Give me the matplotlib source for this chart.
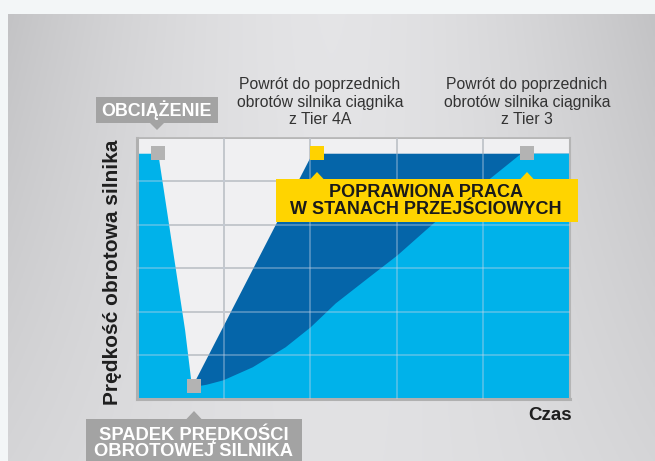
import numpy as np
import matplotlib
matplotlib.use("Agg")
import matplotlib.pyplot as plt
from matplotlib.patches import Rectangle, Polygon

plt.rcParams['font.family'] = ['Liberation Sans', 'DejaVu Sans']

# ---------------- data ----------------
light_x = [0.0, 0.24, 0.55, 0.63, 0.80, 0.99, 1.33, 1.71, 2.00, 2.29, 2.65, 3.00, 3.42, 3.90, 4.43, 5.0]
light_y = [5.65, 5.65, 1.59, 0.28, 0.34, 0.44, 0.74, 1.20, 1.66, 2.21, 2.77, 3.31, 4.05, 4.80, 5.65, 5.65]
dark_x = [0.63, 2.02, 5.0]
dark_y = [0.28, 5.65, 5.65]
marker_x = [0.24, 0.66, 2.08, 4.50]
marker_y = [5.65, 0.30, 5.65, 5.65]
marker_colors = ['#b3b3b3', '#b3b3b3', '#ffd200', '#b3b3b3']

y_label = 'Prędkość obrotowa silnika'
x_label = 'Czas'
note_4a = 'Powrót do poprzednich\nobrotów silnika ciągnika\nz Tier 4A'
note_t3 = 'Powrót do poprzednich\nobrotów silnika ciągnika\nz Tier 3'
load_label = 'OBCIĄŻENIE'
drop_label = 'SPADEK PRĘDKOŚCI\nOBROTOWEJ SILNIKA'
improve_label = 'POPRAWIONA PRACA\nW STANACH PRZEJŚCIOWYCH'

LIGHT = '#00b2ea'
DARK = '#0565a9'
GRAY_BOX = '#a3a3a3'
YELLOW = '#ffd400'

W, H = 655, 461
fig = plt.figure(figsize=(W / 100, H / 100), dpi=100, facecolor='#f3f6f7')

def fx(x):
    return x / W

def fy(y):
    return 1 - y / H

# background gradient
bg = fig.add_axes([fx(8), 0, 1 - fx(8), 1 - 14 / H])
xx = np.linspace(0, 1, 300)[None, :]
yy = np.linspace(0, 1, 200)[:, None]
hx = np.abs(2 * xx - 1) ** 1.6
v = 0.895 - 0.01 * yy - hx * (0.13 * (1 - yy) + 0.05 * yy)
img = np.dstack([v, v, np.clip(v + 0.008, 0, 1)])
bg.imshow(img, aspect='auto', extent=[0, 1, 0, 1], origin='upper')
bg.set_axis_off()

# main axes
ax = fig.add_axes([fx(137), fy(399), 433 / W, 261 / H])
ax.set_facecolor('#f0f0f2')
ax.set_xlim(0, 5)
ax.set_ylim(0, 6)
ax.set_xticks(range(0, 6))
ax.set_yticks(range(0, 7))
ax.tick_params(length=0, labelleft=False, labelbottom=False)
ax.set_axisbelow(True)
ax.grid(True, color='#b8b8b8', linewidth=1.2)

ax.fill_between(dark_x, 0, dark_y, color=DARK, linewidth=0, zorder=1)
ax.fill_between(light_x, 0, light_y, color=LIGHT, linewidth=0, zorder=2)

for t in range(1, 5):
    ax.axvline(t, color=(0.80, 0.84, 0.90), alpha=0.42, linewidth=1.2, zorder=3)
for t in range(1, 6):
    ax.axhline(t, color=(0.80, 0.84, 0.90), alpha=0.42, linewidth=1.2, zorder=3)

for mx, my, mc in zip(marker_x, marker_y, marker_colors):
    ax.plot([mx], [my], marker='s', markersize=10, color=mc, mew=0,
            linestyle='none', zorder=6, clip_on=False)

for side in ['left', 'bottom']:
    ax.spines[side].set_color('#b0b0b0')
    ax.spines[side].set_linewidth(2.2)
ax.spines['top'].set_color('#b5b5b5')
ax.spines['top'].set_linewidth(1.2)
ax.spines['right'].set_color('#b5b5b5')
ax.spines['right'].set_linewidth(1.5)

# labels
fig.text(fx(113), fy(272), y_label, rotation=90, ha='center', va='center',
         fontsize=15, fontweight='bold', color='#1e1e1e')
fig.text(fx(550), fy(415.5), x_label, ha='center', va='center',
         fontsize=13.5, fontweight='bold', color='#1e1e1e')

fig.text(fx(320), fy(102), note_4a, ha='center', va='center', multialignment='center',
         fontsize=11.3, color='#333333', linespacing=1.2)
fig.text(fx(527), fy(102), note_t3, ha='center', va='center', multialignment='center',
         fontsize=11.3, color='#333333', linespacing=1.2)

def add_rect(x0, y0, x1, y1, color):
    fig.patches.append(Rectangle((fx(x0), fy(y1)), fx(x1) - fx(x0), fy(y0) - fy(y1),
                                 transform=fig.transFigure, facecolor=color,
                                 edgecolor='none', zorder=10))

def add_tri(pts, color):
    fig.patches.append(Polygon([(fx(a), fy(b)) for a, b in pts], closed=True,
                               transform=fig.transFigure, facecolor=color,
                               edgecolor='none', zorder=10))

# OBCIĄŻENIE box
add_rect(96, 97, 218, 123, GRAY_BOX)
add_tri([(150, 123), (164, 123), (157, 130)], GRAY_BOX)
fig.text(fx(157), fy(110.5), load_label, ha='center', va='center', fontsize=12.9,
         fontweight='bold', color='white', zorder=11)

# yellow box
add_rect(276, 179, 578, 222, YELLOW)
add_tri([(310, 179.5), (324, 179.5), (317, 172)], YELLOW)
add_tri([(520, 179.5), (534, 179.5), (527, 172)], YELLOW)
fig.text(fx(426), fy(201), improve_label, ha='center', va='center',
         multialignment='center', fontsize=13, fontweight='bold',
         color='#1a1a1a', linespacing=1.0, zorder=11)

# SPADEK box
add_rect(86, 419, 302, 462, GRAY_BOX)
add_tri([(186, 419.5), (202, 419.5), (194, 411)], GRAY_BOX)
fig.text(fx(193.5), fy(442), drop_label, ha='center', va='center',
         multialignment='center', fontsize=13.2, fontweight='bold',
         color='white', linespacing=0.95, zorder=11)

fig.savefig('out.png', dpi=100, facecolor=fig.get_facecolor())
